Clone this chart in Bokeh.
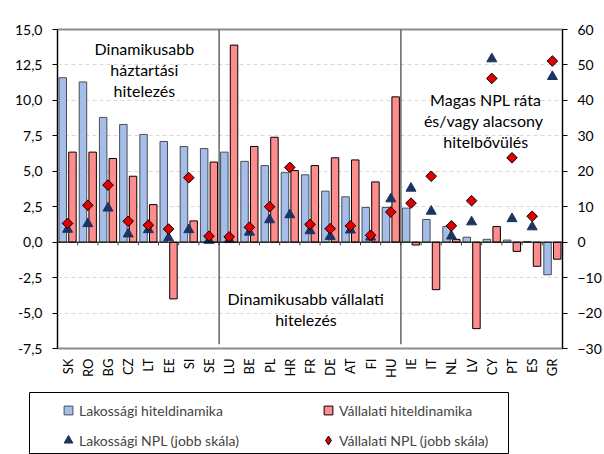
import numpy as np
from bokeh.plotting import figure
from bokeh.layouts import column
from bokeh.models import (ColumnDataSource, Range1d, FactorRange, LinearAxis, FixedTicker, Span,
                          Label, Legend, LegendItem, CustomJSTickFormatter)
from bokeh.transform import dodge
from bokeh.embed import file_html
from bokeh.resources import INLINE

# ---- data ----
group_household = ["SK", "RO", "BG", "CZ", "LT", "EE", "SI", "SE"]
group_corporate = ["LU", "BE", "PL", "HR", "FR", "DE", "AT", "FI", "HU"]
group_high_npl = ["IE", "IT", "NL", "LV", "CY", "PT", "ES", "GR"]
countries = group_household + group_corporate + group_high_npl

household_growth = [11.6, 11.3, 8.8, 8.3, 7.6, 7.1, 6.75, 6.6,
                    6.35, 5.7, 5.4, 4.9, 4.75, 3.6, 3.2, 2.45, 2.45,
                    2.4, 1.6, 1.1, 0.35, 0.2, 0.15, 0.05, -2.3]
corporate_growth = [6.35, 6.35, 5.9, 4.65, 2.65, -4.0, 1.5, 5.65,
                    13.9, 6.75, 7.4, 5.05, 5.4, 5.95, 5.8, 4.25, 10.25,
                    -0.2, -3.35, 0.2, -6.1, 1.1, -0.65, -1.7, -1.2]
household_npl = [3.6, 5.2, 9.6, 2.3, 3.5, 1.2, 3.5, 0.5,
                 0.7, 2.8, 6.3, 7.7, 3.2, 1.6, 3.4, 1.4, 12.2,
                 15.2, 8.7, 1.7, 5.7, 51.7, 6.6, 4.3, 46.7]
corporate_npl = [5.3, 10.4, 16.1, 5.9, 4.8, 3.7, 18.2, 1.7,
                 1.5, 4.2, 10.0, 21.1, 5.0, 3.8, 4.6, 1.95, 8.5,
                 11.0, 18.6, 4.6, 11.7, 46.2, 23.8, 7.3, 51.1]

left_ticks = [-7.5, -5.0, -2.5, 0.0, 2.5, 5.0, 7.5, 10.0, 12.5, 15.0]
right_ticks = [-30, -20, -10, 0, 10, 20, 30, 40, 50, 60]

series_names = ["Lakossági hiteldinamika", "Vállalati hiteldinamika",
                "Lakossági NPL (jobb skála)", "Vállalati NPL (jobb skála)"]
annotation_household = "Dinamikusabb\nháztartási\nhitelezés"
annotation_corporate = "Dinamikusabb vállalati\nhitelezés"
annotation_npl = "Magas NPL ráta\nés/vagy  alacsony\nhitelbővülés"

# ---- styles ----
BLUE = "#A4BDEB"
RED = "#FF8C8C"
NAVY = "#1B3560"
DRED = "#E00000"
FONT = "Lato"

source = ColumnDataSource(dict(country=countries, hh=household_growth, corp=corporate_growth,
                               hh_npl=household_npl, corp_npl=corporate_npl))

p = figure(width=604, height=380, output_backend="svg", toolbar_location=None,
           x_range=FactorRange(*countries), y_range=Range1d(left_ticks[0], left_ticks[-1]),
           min_border_left=57, min_border_right=37, min_border_top=29, min_border_bottom=29,
           background_fill_color="white", border_fill_color="white")
p.frame_align = False
p.extra_y_ranges = {"npl": Range1d(right_ticks[0], right_ticks[-1])}

p.outline_line_color = "#8C8C8C"
p.outline_line_width = 2

# grid
p.xgrid.visible = False
p.ygrid.ticker = FixedTicker(ticks=left_ticks)
p.ygrid.grid_line_color = "#D9D9D9"
p.ygrid.grid_line_dash = "4 3"

# left axis
ya = p.yaxis[0]
ya.ticker = FixedTicker(ticks=left_ticks)
ya.formatter = CustomJSTickFormatter(code="return tick.toFixed(1).replace('.', ',')")
ya.axis_line_color = "black"
ya.major_tick_out = 5
ya.major_tick_in = 0
ya.minor_tick_line_color = None
ya.major_label_standoff = 10
ya.major_label_text_font = FONT
ya.major_label_text_font_size = "14px"
ya.major_label_text_color = "black"

# right axis
ra = LinearAxis(y_range_name="npl", ticker=FixedTicker(ticks=right_ticks))
ra.axis_line_color = "black"
ra.major_tick_out = 5
ra.major_tick_in = 0
ra.minor_tick_line_color = None
ra.major_label_standoff = 10
ra.major_label_text_font = FONT
ra.major_label_text_font_size = "14px"
ra.major_label_text_color = "black"
p.add_layout(ra, "right")

# category axis
xa = p.xaxis[0]
xa.axis_line_color = None
xa.major_tick_line_color = None
xa.minor_tick_line_color = None
xa.major_label_orientation = np.pi / 2
xa.major_label_standoff = 4
xa.major_label_text_font = FONT
xa.major_label_text_font_size = "13px"
xa.major_label_text_color = "black"

# bars
p.vbar(x=dodge("country", -0.24, range=p.x_range), top="hh", width=0.37, source=source,
       fill_color=BLUE, line_color="#4D4D4D", line_width=1)
p.vbar(x=dodge("country", 0.24, range=p.x_range), top="corp", width=0.37, source=source,
       fill_color=RED, line_color="black", line_width=1)

# zero line with boundary ticks
p.add_layout(Span(location=0, dimension="width", line_color="black", line_width=1))
n = len(countries)
bounds = list(range(1, n))
p.segment(x0=bounds, x1=bounds, y0=[0] * len(bounds), y1=[-0.22] * len(bounds),
          line_color="#404040", line_width=1)

# group separators
seps = [len(group_household), len(group_household) + len(group_corporate)]
p.segment(x0=seps, x1=seps, y0=[left_ticks[-1]] * 2, y1=[-7.2] * 2,
          line_color="#404040", line_width=1.2)

# NPL markers
tri_style = dict(marker="triangle", fill_color=NAVY, line_color=NAVY)
p.scatter(x="country", y="hh_npl", source=source, y_range_name="npl", size=10, **tri_style)
p.scatter(x="country", y="corp_npl", source=source, y_range_name="npl", size=7.5,
          marker="square", angle=np.pi / 4, fill_color=DRED, line_color="black", line_width=1)

# annotations
for txt, x, y in [(annotation_household, 4.3, 14.3), (annotation_corporate, 12.3, -3.3),
                  (annotation_npl, 21.2, 10.7)]:
    p.add_layout(Label(x=x, y=y, text=txt, text_align="center", text_baseline="top",
                       text_font=FONT, text_font_size="16px", text_line_height=1.1,
                       text_color="black"))

p.add_layout(Label(x=0, y=left_ticks[-1], text="%", x_offset=5, y_offset=5,
                   text_align="left", text_baseline="bottom", text_font=FONT,
                   text_font_size="14px", text_color="black"))
p.add_layout(Label(x=n, y=left_ticks[-1], text="%", x_offset=0, y_offset=5,
                   text_align="right", text_baseline="bottom", text_font=FONT,
                   text_font_size="14px", text_color="black"))

# ---- legend panel (its frame outline is the legend box) ----
lg = figure(width=604, height=74, output_backend="svg", toolbar_location=None,
            x_range=Range1d(0, 1), y_range=Range1d(0, 1),
            x_axis_location=None, y_axis_location=None,
            min_border_left=29, min_border_right=96, min_border_top=12, min_border_bottom=0,
            background_fill_color="white", border_fill_color="white")
lg.frame_align = False
lg.grid.visible = False
lg.outline_line_color = "black"
lg.outline_line_width = 1
nan = np.array([np.nan])
r_lb = lg.scatter(x=nan, y=nan, marker="square", fill_color=BLUE, line_color="#4D4D4D")
r_lr = lg.scatter(x=nan, y=nan, marker="square", fill_color=RED, line_color="black")
r_lt = lg.scatter(x=nan, y=nan, **tri_style)
r_ld = lg.scatter(x=nan, y=nan, marker="diamond", fill_color=DRED, line_color="black")

legend = Legend(items=[LegendItem(label=series_names[0], renderers=[r_lb]),
                       LegendItem(label=series_names[2], renderers=[r_lt]),
                       LegendItem(label=series_names[1], renderers=[r_lr]),
                       LegendItem(label=series_names[3], renderers=[r_ld])],
                ncols=2, location=(28, 3), padding=0, spacing=8, margin=0,
                glyph_width=22, glyph_height=22, label_standoff=0, label_width=230,
                label_text_font=FONT, label_text_font_size="14px",
                border_line_color=None, background_fill_alpha=0)
lg.add_layout(legend, "center")

layout = column(p, lg, spacing=0)
open("out.html", "w").write(file_html(layout, INLINE))
